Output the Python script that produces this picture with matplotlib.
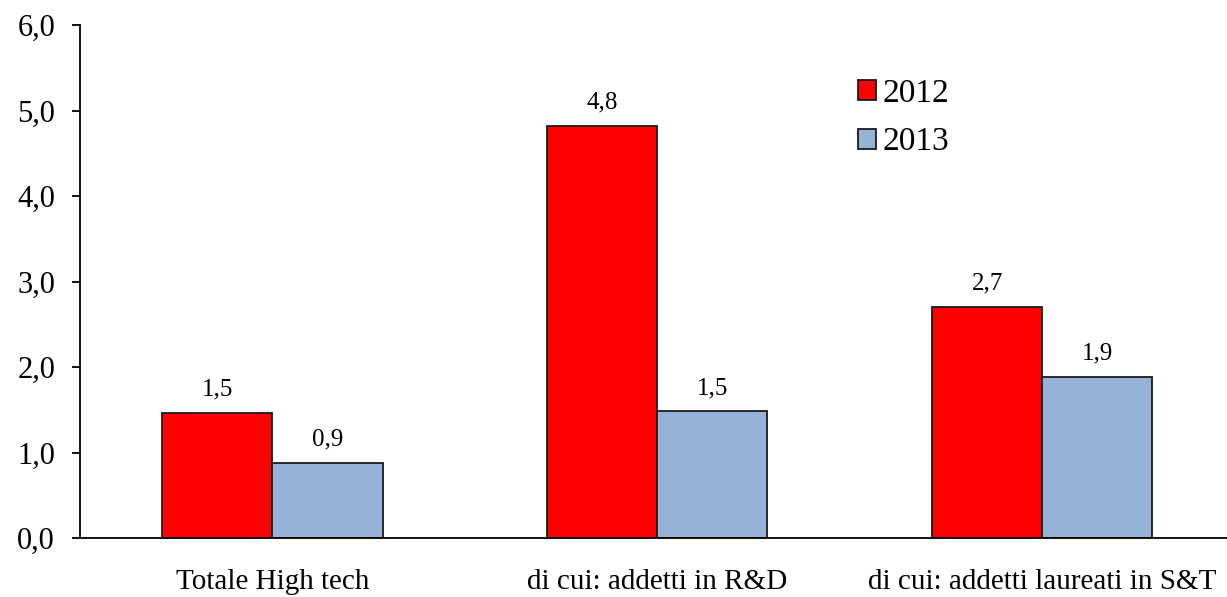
import numpy as np
import matplotlib.pyplot as plt
from matplotlib.ticker import FuncFormatter

# categories and values
categories = ['Totale High tech', 'di cui: addetti in R&D', 'di cui: addetti laureati in S&T']
vals_2012 = [1.46, 4.82, 2.70]
vals_2013 = [0.88, 1.48, 1.88]
series_names = ['2012', '2013']

plt.rcParams['font.family'] = ['Liberation Serif', 'DejaVu Serif']

fig = plt.figure(figsize=(12.27, 5.97), dpi=100)
ax = fig.add_axes([0.0652, 0.0988, 0.9348, 0.8593])

x = np.arange(len(categories))
w = 0.286
b1 = ax.bar(x - w / 2, vals_2012, w, color='#ff0000', edgecolor='#1a1a1a', linewidth=1.3, label=series_names[0])
b2 = ax.bar(x + w / 2, vals_2013, w, color='#95b3d7', edgecolor='#1a1a1a', linewidth=1.3, label=series_names[1])

for bars in (b1, b2):
    for r in bars:
        h = r.get_height()
        ax.annotate(f'{h:.1f}'.replace('.', ','), (r.get_x() + r.get_width() / 2, h),
                    xytext=(0, 9), textcoords='offset points', ha='center', va='bottom', fontsize=18)

ax.set_ylim(0, 6)
ax.set_xlim(-0.5, 2.48)
ax.set_yticks(np.arange(0, 7, 1))
ax.yaxis.set_major_formatter(FuncFormatter(lambda v, p: f'{v:.1f}'.replace('.', ',')))
ax.set_xticks(x)
ax.set_xticklabels(categories, fontsize=21)
ax.tick_params(axis='x', length=0, pad=22)
ax.tick_params(axis='y', length=6, width=1.3, labelsize=22, pad=12)

for s in ['top', 'right']:
    ax.spines[s].set_visible(False)
ax.spines['left'].set_linewidth(1.3)
ax.spines['bottom'].set_linewidth(1.3)

ax.legend(loc='upper left', bbox_to_anchor=(0.652, 0.955), frameon=False, fontsize=24,
          handlelength=0.55, handleheight=0.55, handletextpad=0.2, labelspacing=0.55)

fig.savefig('out.png', dpi=100)
